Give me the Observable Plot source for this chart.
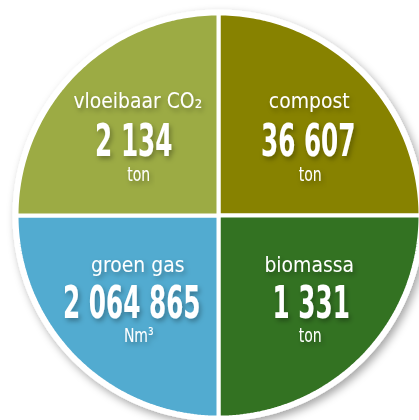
<!DOCTYPE html>
<html><head><meta charset="utf-8">
<script src="https://cdn.jsdelivr.net/npm/d3@7"></script>
<script src="https://cdn.jsdelivr.net/npm/@observablehq/plot@0.6"></script>
<style>
html,body{margin:0;padding:0;background:#fff;}
#chart svg{display:block;}
</style></head><body><div id="chart"></div>
<script>
// Slices, clockwise from 12 o'clock
const categories = ["compost", "biomassa", "groen gas", "vloeibaar CO₂"];
const values = [36607, 1331, 2064865, 2134];
const units = ["ton", "ton", "Nm³", "ton"];
const colors = ["#878200", "#337222", "#52abd0", "#9cab44"];

// layout
const W = 419, H = 420, CX = 218, CY = 215, R = 202;

const fmt = d3.formatLocale({thousands: " ", grouping: [3], decimal: ","}).format(",d");
const pie = d3.pie().value(() => 1).sort(null)(categories.map((c, i) => i));

const slicePts = pie.flatMap(p => {
  const i = p.data;
  const pts = [{cat: categories[i], x: 0, y: 0}];
  const n = 90;
  for (let s = 0; s <= n; s++) {
    const a = p.startAngle + (p.endAngle - p.startAngle) * s / n;
    pts.push({cat: categories[i], x: Math.sin(a), y: Math.cos(a)});
  }
  return pts;
});

const k = 4 / (3 * Math.PI); // quarter-disc centroid offset
const rows = pie.map(p => {
  const i = p.data;
  const a = (p.startAngle + p.endAngle) / 2;
  return {label: categories[i], value: fmt(values[i]), unit: units[i],
    x: Math.sign(Math.sin(a)) * k, y: Math.sign(Math.cos(a)) * k,
    top: Math.cos(a) > 0, left: Math.sin(a) < 0};
});

const font = "DejaVu Sans Condensed";
const textMarks = (data, dyL, dyV, dyU, dxV) => [
  Plot.text(data, {x: "x", y: "y", text: "label", dx: 5, dy: dyL, lineAnchor: "bottom", fill: "white",
    fontFamily: font, fontSize: 22}),
  Plot.text(data, {x: "x", y: "y", text: "value", dx: dxV, dy: dyV, lineAnchor: "bottom", fill: "white",
    fontFamily: font, fontSize: 45, fontWeight: "bold"}),
  Plot.text(data, {x: "x", y: "y", text: "unit", dx: 6, dy: dyU, lineAnchor: "bottom", fill: "white",
    fontFamily: font, fontSize: 20})
];
const sel = (top, left) => rows.filter(d => d.top === top && d.left === left);

const chart = Plot.plot({
  width: W, height: H,
  marginTop: 0, marginRight: 0, marginBottom: 0, marginLeft: 0,
  x: {domain: [-CX / R, (W - CX) / R], range: [0, W], axis: null},
  y: {domain: [-(H - CY) / R, CY / R], range: [H, 0], axis: null},
  marks: [
    Plot.dot([{x: 0, y: 0}], {x: "x", y: "y", r: R + 4, fill: "white", stroke: "none"}),
    ...categories.map((c, i) => Plot.line(slicePts.filter(d => d.cat === c), {x: "x", y: "y",
      fill: colors[i], stroke: "white", strokeWidth: 4, curve: "linear-closed", strokeLinejoin: "miter"})),
    ...textMarks(sel(true, true), -22, 26, 51, 1),
    ...textMarks(sel(true, false), -22, 26, 51, 4),
    ...textMarks(sel(false, true), -29, 17, 41, -1),
    ...textMarks(sel(false, false), -29, 17, 41, 7)
  ]
});

document.getElementById("chart").appendChild(chart);

// drop shadows as SVG filters
const NS = "http://www.w3.org/2000/svg";
const defs = document.createElementNS(NS, "defs");
defs.innerHTML =
  '<filter id="discShadow" x="-20%" y="-20%" width="140%" height="140%">' +
  '<feDropShadow dx="3" dy="4" stdDeviation="4" flood-color="#000" flood-opacity="0.35"/></filter>' +
  '<filter id="textShadow" x="-20%" y="-30%" width="140%" height="160%">' +
  '<feDropShadow dx="2" dy="3" stdDeviation="2.5" flood-color="#000" flood-opacity="0.3"/></filter>';
chart.insertBefore(defs, chart.firstChild);
const dotG = chart.querySelector('g[aria-label="dot"]');
if (dotG) dotG.setAttribute("filter", "url(#discShadow)");

// condense glyphs to mimic the narrow display face
const squish = [0.95, 0.61, 0.78];
chart.querySelectorAll('g[aria-label="text"]').forEach((g, gi) => {
  g.setAttribute("filter", "url(#textShadow)");
  const f = squish[gi % 3];
  g.querySelectorAll("text").forEach(t => {
    const w = t.getComputedTextLength();
    t.setAttribute("textLength", (w * f).toFixed(1));
    t.setAttribute("lengthAdjust", "spacingAndGlyphs");
  });
});
</script>
</body></html>
